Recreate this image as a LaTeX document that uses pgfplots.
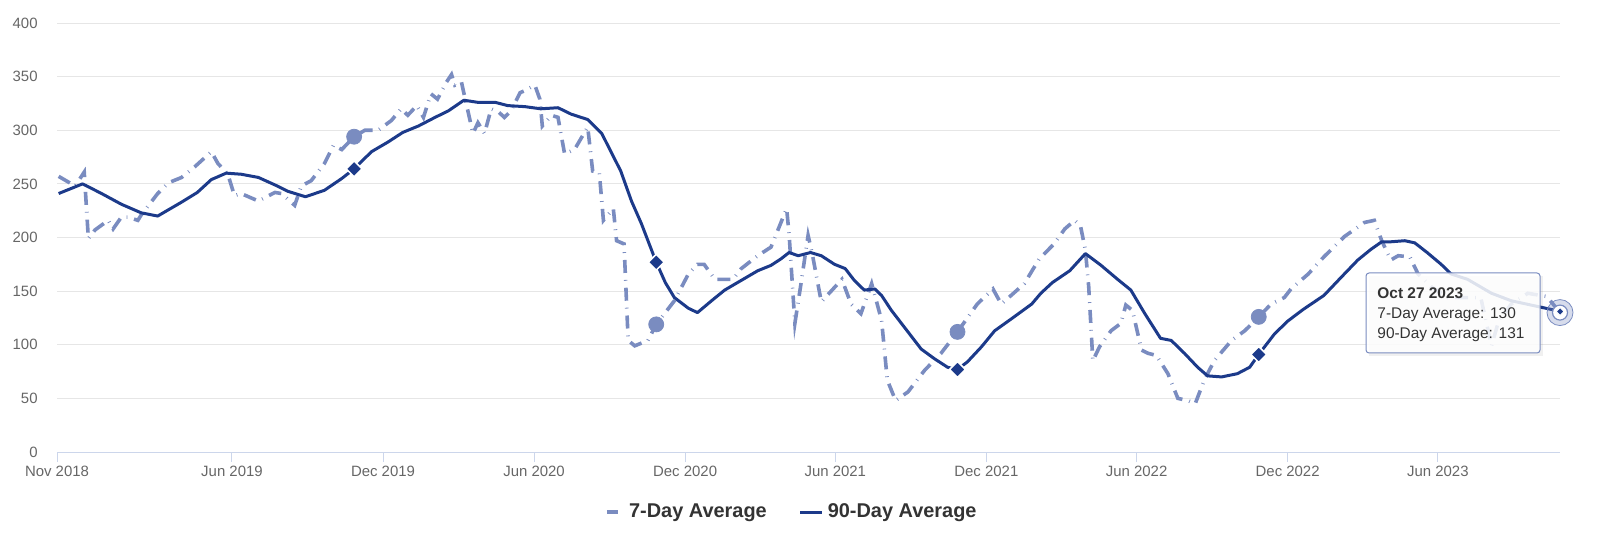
\documentclass[border=0pt]{standalone}
\usepackage{fontspec}
\setmainfont{Liberation Sans}
\usepackage{pgfplots}
\pgfplotsset{compat=1.18}
\usepackage{pgfplotstable}

\definecolor{c7}{RGB}{122,140,192}
\definecolor{c90}{RGB}{28,58,138}
\definecolor{gridc}{RGB}{230,230,230}
\definecolor{axisc}{RGB}{204,214,235}
\definecolor{labc}{RGB}{102,102,102}
\definecolor{legc}{RGB}{51,51,51}

% x = days since 1 Nov 2018
\pgfplotstableread{
day v
2 257
22 248
33 261
38 199
46 207
62 216
68 208
78 219
86 219
98 216
102 221
122 241
135 251
151 256
167 266
187 280
195 269
207 259
215 239
223 241
244 234
264 242
272 241
288 230
296 248
308 253
324 269
335 286
345 282
360 294
373 300
389 300
405 309
417 320
425 314
436 323
444 312
453 334
461 329
472 345
478 352
482 342
490 345
494 331
504 297
510 307
518 297
526 320
535 317
542 312
550 318
561 335
567 337
579 342
585 329
588 304
599 314
607 312
615 278
627 282
643 303
649 262
657 261
662 216
674 227
678 197
687 194
692 104
700 99
716 104
726 119
748 141
765 166
776 175
784 175
797 161
819 161
829 171
849 183
865 191
884 227
887 203
894 120
902 160
910 202
915 185
926 140
951 161
962 138
974 129
987 157
999 123
1006 67
1016 48
1031 56
1051 76
1071 92
1091 112
1115 138
1134 152
1144 138
1156 146
1172 157
1190 180
1208 194
1221 208
1233 216
1240 211
1246 188
1250 154
1255 85
1263 98
1277 113
1289 120
1295 137
1303 132
1314 95
1322 92
1332 90
1346 73
1358 50
1370 48
1379 45
1390 67
1402 85
1423 104
1439 113
1456 126
1471 138
1487 144
1495 152
1516 166
1535 182
1560 201
1584 214
1596 216
1605 197
1616 179
1625 183
1639 182
1649 166
1665 154
1685 144
1725 144
1738 99
1747 123
1762 138
1782 148
1805 145
1821 130
}\sevenday

\pgfplotstableread{
day v
2 241
31 250
54 241
78 231
102 223
122 220
151 233
170 242
187 254
205 260
223 259
244 256
267 248
280 243
301 238
324 244
345 255
360 264
381 280
401 289
419 298
438 304
458 312
474 318
493 328
510 326
531 326
546 323
567 322
586 320
607 321
623 315
643 310
660 297
683 262
696 234
708 213
716 197
726 177
737 158
748 144
765 134
776 130
793 141
809 151
829 160
849 169
865 174
877 180
887 186
898 183
913 186
926 183
942 175
955 171
966 160
978 151
991 152
999 146
1011 132
1027 116
1047 96
1063 87
1079 79
1091 77
1103 84
1120 98
1136 113
1156 124
1181 138
1192 148
1206 158
1227 169
1246 185
1265 174
1285 161
1301 151
1318 129
1337 106
1350 104
1366 92
1382 79
1394 71
1411 70
1430 73
1445 79
1456 91
1475 110
1491 122
1510 133
1535 146
1556 163
1576 179
1592 189
1605 196
1616 196
1633 197
1645 195
1660 186
1677 175
1689 166
1709 161
1738 148
1762 141
1786 137
1810 133
1821 131
}\ninetyday

\begin{document}
\begin{tikzpicture}
\path (0,0) rectangle (800bp,267bp);
\begin{axis}[
  at={(28.5bp,41bp)}, anchor=south west,
  scale only axis, width=751.5bp, height=214.5bp,
  xmin=0, xmax=1821, ymin=0, ymax=400,
  axis x line=bottom, axis y line=left,
  x axis line style={draw=axisc, line width=0.5bp, -},
  y axis line style={draw=none},
  xtick={0,212,395,578,761,943,1126,1308,1491,1673},
  xticklabels={Nov 2018,Jun 2019,Dec 2019,Jun 2020,Dec 2020,Jun 2021,Dec 2021,Jun 2022,Dec 2022,Jun 2023},
  ytick={0,50,...,400},
  ymajorgrids, grid style={draw=gridc, line width=0.5bp},
  xtick align=outside, ytick align=inside,
  xtick style={draw=axisc, line width=0.5bp},
  ytick style={draw=none},
  major tick length=5bp,
  ticklabel style={font=\fontsize{7.5}{9}\selectfont, text=labc},
  yticklabel style={anchor=east, inner sep=0pt, xshift=-9.5bp},
  xticklabel style={anchor=north, inner sep=0pt, yshift=-2bp},
  /pgf/number format/assume math mode=true,
  clip=false,
  legend style={at={(0.4877,-0.14)}, anchor=center, draw=none, fill=none,
    legend columns=2, font=\bfseries\fontsize{10}{12}\selectfont, text=legc,
    /tikz/every even column/.append style={column sep=14bp}},
]
\addplot[c7, line width=1.8bp, dash pattern=on 6.5bp off 3.5bp on 0.4bp off 3.5bp,
  legend image code/.code={\path (0,0) (11bp,0); \draw[c7, solid, line width=1.6bp] (2.75bp,0) -- (8.25bp,0);}]
  table[x=day, y=v] {\sevenday};
\addlegendentry{7-Day Average}
\addplot[c90, line width=1.5bp, line join=round,
  legend image code/.code={\draw[c90, solid, line width=1.5bp] (0,0) -- (11bp,0);}]
  table[x=day, y=v] {\ninetyday};
\addlegendentry{90-Day Average}

% yearly markers (27 Oct)
\addplot[c7, forget plot, only marks, mark=*, mark size=3.75bp, mark options={solid, draw=c7, fill=c7}]
  coordinates {(360,294) (726,119) (1091,112) (1456,126)};
\addplot[c90, forget plot, only marks, mark=square*, mark size=2.8bp,
  mark options={solid, rotate=45, fill=c90, draw=white, line width=0.75bp}]
  coordinates {(360,264) (726,177) (1091,77) (1456,91)};

% hovered point
\addplot[c7, forget plot, only marks, mark=*, mark size=6.5bp, mark options={draw=none, fill=c7, fill opacity=0.3}]
  coordinates {(1821,130)};
\addplot[c7, forget plot, only marks, mark=*, mark size=3.75bp, mark options={solid, fill=white, draw=c7, line width=0.6bp}]
  coordinates {(1821,130)};
\addplot[c90, forget plot, only marks, mark=square*, mark size=1.4bp,
  mark options={solid, rotate=45, fill=c90, draw=white, line width=0.5bp}]
  coordinates {(1821,131)};
\end{axis}

% tooltip
\fill[black, opacity=0.06] (684.5bp,89bp) rectangle (771.5bp,129bp);
\draw[c7, line width=0.5bp, fill=white, fill opacity=0.85, rounded corners=1.5bp]
  (683bp,90.5bp) rectangle (770bp,130.5bp);
\node[anchor=base west, inner sep=0pt, text=legc, font=\bfseries\fontsize{7.75}{9}\selectfont]
  at (688.5bp,117.75bp) {Oct 27 2023};
\node[anchor=base west, inner sep=0pt, text=legc, font=\fontsize{7.75}{9}\selectfont]
  at (688.5bp,107.75bp) {7-Day Average: 130};
\node[anchor=base west, inner sep=0pt, text=legc, font=\fontsize{7.75}{9}\selectfont]
  at (688.5bp,97.75bp) {90-Day Average: 131};
\end{tikzpicture}
\end{document}
